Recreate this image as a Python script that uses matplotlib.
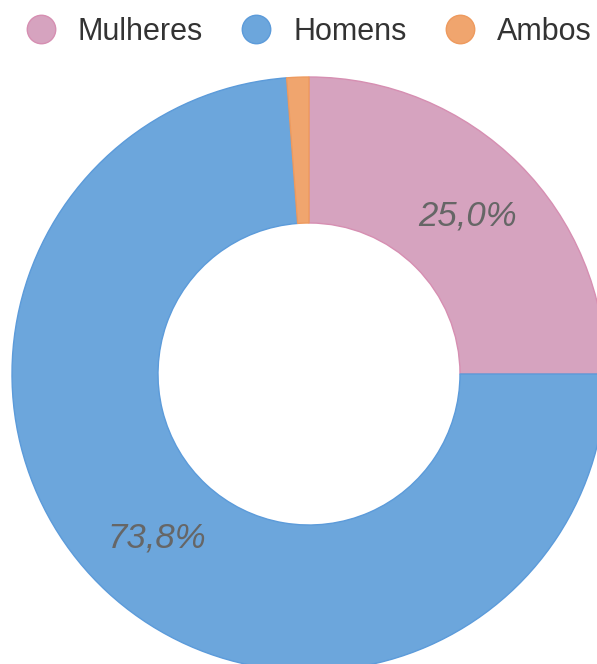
import matplotlib
matplotlib.use("Agg")
import matplotlib.pyplot as plt
from matplotlib.lines import Line2D

categories = ["Mulheres", "Homens", "Ambos"]
values = [25.0, 73.8, 1.2]
colors = ["#D6A3BF", "#6CA6DC", "#F0A56E"]
edge_colors = ["#D68FB2", "#5C9BDA", "#EE9A5E"]

W, H = 597, 664
fig = plt.figure(figsize=(W / 100, H / 100), dpi=100)
ax = fig.add_axes([0, 0, 1, 1])

cx, cy = 309, H - 374
R, r_in = 297, 151

def fmt(p):
    return f"{p:.1f}%".replace(".", ",") if p >= 5 else ""

wedges, texts, autotexts = ax.pie(
    values, colors=colors, startangle=90, counterclock=False,
    center=(cx, cy), radius=R, frame=True,
    wedgeprops=dict(width=R - r_in, linewidth=1.0),
    autopct=fmt, pctdistance=(R + r_in) / 2 / R,
    textprops=dict(fontsize=25, style="italic", color="#666666",
                   family="Liberation Sans"))
for w, ec in zip(wedges, edge_colors):
    w.set_edgecolor(ec)

ax.set_xlim(0, W)
ax.set_ylim(0, H)
ax.set_aspect("equal")
ax.axis("off")

# legend
handles = [Line2D([], [], linestyle="none", marker="o", markersize=20.5,
                  markerfacecolor=c, markeredgecolor=ec, markeredgewidth=1)
           for c, ec in zip(colors, edge_colors)]
leg = fig.legend(handles, categories, loc="center", bbox_to_anchor=(0.517, 1 - 32 / H),
                 ncol=3, frameon=False, handlelength=1.0, handletextpad=0.71,
                 columnspacing=1.25, borderpad=0, borderaxespad=0,
                 prop=dict(family="Liberation Sans", size=22))
for t in leg.get_texts():
    t.set_color("#333333")

fig.savefig("out.png", dpi=100)
